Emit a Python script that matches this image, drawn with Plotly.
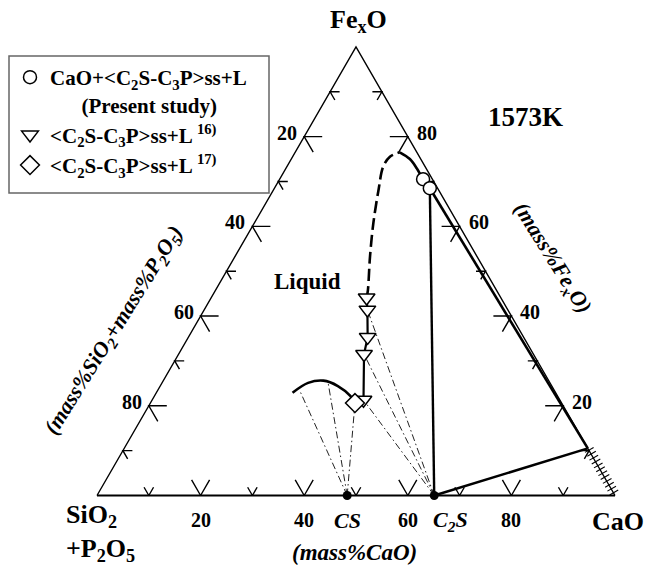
import numpy as np
import plotly.graph_objects as go

FONT = "Liberation Serif"

# ---------------- data: compositions in mass% (CaO, FexO); rest = SiO2+P2O5 ----------------
tick_values = [10, 20, 30, 40, 50, 60, 70, 80, 90]
major_ticks = [20, 40, 60, 80]
tick_labels = ["20", "40", "60", "80"]

cs_cao = 48.3     # CaO.SiO2
c2s_cao = 65.1    # 2CaO.SiO2

# Present study: CaO + <C2S-C3P>ss + L
circle_cao = [27.7, 30.0]
circle_fexo = [70.5, 68.5]

# <C2S-C3P>ss + L  (ref. 16)
tri_cao = [30.0, 31.5, 34.6, 35.8, 40.8]
tri_fexo = [44.1, 41.4, 35.3, 31.5, 21.3]

# <C2S-C3P>ss + L  (ref. 17)
dia_cao = [39.5]
dia_fexo = [20.6]

# liquidus, dashed part (from first triangle up to the top)
dash_cao = [30.0, 29.4, 26.1, 23.0, 20.3, 18.6, 18.8, 20.2]
dash_fexo = [44.1, 45.8, 53.2, 60.7, 68.1, 73.3, 75.5, 76.5]

# liquidus, solid part towards CaO saturation
sat_cao = [20.2, 22.9, 25.3, 27.7, 30.0]
sat_fexo = [76.5, 75.0, 72.9, 70.5, 68.5]

# CaO-saturation line near the CaO-FexO edge
inner_cao = [30.0, 89.5]
inner_fexo = [68.5, 10.5]

# CS-saturated liquidus arc
arc_cao = [26.3, 28.2, 30.9, 34.3, 37.8, 39.5]
arc_fexo = [22.9, 25.1, 25.6, 24.4, 22.2, 20.6]

# tie-line liquid ends
cs_tie_cao = [27.7, 32.2, 39.5]
cs_tie_fexo = [23.1, 24.9, 20.6]
c2s_tie_cao = [31.5, 35.8, 40.8]
c2s_tie_fexo = [41.4, 31.5, 21.3]

# C2S - CaO/FexO edge three-phase line end
edge_cao = [89.5]
edge_fexo = [10.5]

# hatched (CaO-FexO) solid solution range along the edge, FexO mass%
ss_fexo_range = [0.0, 10.5]

# ---------------- geometry helpers ----------------
S3 = np.sqrt(3) / 2
PX = 5.18  # pixels per composition unit (figure scale)
W, H = 646, 565


def xy(cao, fexo):
    cao = np.asarray(cao, float)
    fexo = np.asarray(fexo, float)
    return cao + fexo / 2, fexo * S3


fig = go.Figure()


def line(cao, fexo, width=2.5, dash=None, shape="linear", color="black"):
    x, y = xy(cao, fexo)
    fig.add_trace(go.Scatter(x=x, y=y, mode="lines", showlegend=False, hoverinfo="skip",
                             line=dict(color=color, width=width, dash=dash, shape=shape,
                                       smoothing=1.0)))


def segs(xs, ys, width, color="black", dash=None):
    fig.add_trace(go.Scatter(x=xs, y=ys, mode="lines", showlegend=False, hoverinfo="skip",
                             line=dict(color=color, width=width, dash=dash)))


# triangle edges (SiO2 corner -> FexO apex -> CaO corner), bottom edge heavier
line([0, 0, 100], [0, 100, 0], width=1.4)
line([0, 100], [0, 0], width=2.2)

# ticks
tx, ty = [], []
for v in tick_values:
    L = (18 if v in major_ticks else 9.5) / PX
    x0, y0 = xy(v, 0)
    tx += [x0 - 0.5 * L, x0, x0 + 0.5 * L, None]
    ty += [y0 + S3 * L, y0, y0 + S3 * L, None]
    x0, y0 = xy(0, 100 - v)
    tx += [x0 + L, x0, x0 + 0.5 * L, None]
    ty += [y0, y0, y0 - S3 * L, None]
    x0, y0 = xy(100 - v, v)
    tx += [x0 - L, x0, x0 - 0.5 * L, None]
    ty += [y0, y0, y0 - S3 * L, None]
segs(tx, ty, 1.4)

# hatch marks along the CaO-FexO edge
hx, hy = [], []
h = 5.5 / PX
for f in np.linspace(ss_fexo_range[0] + 0.6, ss_fexo_range[1] - 0.4, 12):
    x0, y0 = xy(100 - f, f)
    hx += [x0 - S3 * h * 0.8, x0 + S3 * h, None]
    hy += [y0 - 0.5 * h * 0.8, y0 + 0.5 * h, None]
segs(hx, hy, 1.1)

# tie lines (dash-dot)
tdx, tdy = [], []
for c, f in zip(cs_tie_cao, cs_tie_fexo):
    a, b = xy([cs_cao, c], [0, f])
    tdx += list(a) + [None]
    tdy += list(b) + [None]
for c, f in zip(c2s_tie_cao, c2s_tie_fexo):
    a, b = xy([c2s_cao, c], [0, f])
    tdx += list(a) + [None]
    tdy += list(b) + [None]
segs(tdx, tdy, 1.0, color="#222", dash="7px,3px,1.5px,3px")

# phase boundaries
line(dash_cao, dash_fexo, width=2.6, dash="12px,5px", shape="spline")
line(sat_cao, sat_fexo, width=2.6, shape="spline")
line(inner_cao, inner_fexo, width=2.6)
line(arc_cao, arc_fexo, width=2.6, shape="spline")
line(tri_cao, tri_fexo, width=2.2)
line([c2s_cao, circle_cao[1]], [0, circle_fexo[1]], width=2.4)
line([c2s_cao, edge_cao[0]], [0, edge_fexo[0]], width=2.4)

# compounds CS, C2S
xc, yc = xy([cs_cao, c2s_cao], [0, 0])
fig.add_trace(go.Scatter(x=xc, y=yc, mode="markers", showlegend=False, hoverinfo="skip",
                         marker=dict(color="black", size=9)))

# experimental points (legend)
mk = dict(color="white", line=dict(color="black", width=1.5))
x, y = xy(circle_cao, circle_fexo)
fig.add_trace(go.Scatter(x=x, y=y, mode="markers",
                         name="CaO+&lt;C<sub>2</sub>S-C<sub>3</sub>P&gt;ss+L<br>"
                              + "&nbsp;" * 6 + "(Present study)",
                         marker=dict(symbol="circle", size=13, **mk)))
x, y = xy(tri_cao, tri_fexo)
fig.add_trace(go.Scatter(x=x, y=y, mode="markers",
                         name="&lt;C<sub>2</sub>S-C<sub>3</sub>P&gt;ss+L <sup>16)</sup>",
                         marker=dict(symbol="triangle-down", size=14.5, **mk)))
x, y = xy(dia_cao, dia_fexo)
fig.add_trace(go.Scatter(x=x, y=y, mode="markers",
                         name="&lt;C<sub>2</sub>S-C<sub>3</sub>P&gt;ss+L <sup>17)</sup>",
                         marker=dict(symbol="diamond", size=14.5, **mk)))

# ---------------- text ----------------
ann = []


def A(x, y, text, size, xs=0, ys=0, xa="center", ya="middle", ref="x", angle=0,
      align="center", italic=False):
    ann.append(dict(x=x, y=y, xref="paper" if ref == "paper" else "x",
                    yref="paper" if ref == "paper" else "y",
                    text=text, showarrow=False, xshift=xs, yshift=ys, xanchor=xa, yanchor=ya,
                    textangle=angle, align=align,
                    font=dict(family=FONT, size=size, color="black", weight="bold",
                              style="italic" if italic else "normal")))


for v, lab in zip(major_ticks, tick_labels):
    bx, by = xy(v, 0)
    A(float(bx), float(by), lab, 20, ys=-24)
    lx, ly = xy(0, 100 - v)
    A(float(lx), float(ly), lab, 20, xs=-5, ys=4, xa="right")
    rx, ry = xy(100 - v, v)
    A(float(rx), float(ry), lab, 20, xs=7, ys=4, xa="left")

# corners
ax_, ay_ = xy(0, 100)
A(float(ax_), float(ay_), "Fe<sub>x</sub>O", 26, xs=2, ys=26)
sx, sy = xy(0, 0)
A(float(sx), float(sy), "SiO<sub>2</sub><br>+P<sub>2</sub>O<sub>5</sub>", 26,
  xs=-33, ys=-37, xa="left", align="left")
cx, cy = xy(100, 0)
A(float(cx), float(cy), "CaO", 26, xs=3, ys=-26)

# compounds
A(float(xc[0]), float(yc[0]), "CS", 22, ys=-25, italic=True)
A(float(xc[1]), float(yc[1]), "C<sub>2</sub>S", 22, xs=16, ys=-25, italic=True)

# axis titles
A(354.5 / W, 1 - 552 / H, "(mass%CaO)", 23, ref="paper", italic=True)
A(114 / W, 1 - 331 / H, "(mass%SiO<sub>2</sub>+mass%P<sub>2</sub>O<sub>5</sub>)", 22,
  ref="paper", angle=-58, italic=True)
A(551.7 / W, 1 - 258 / H, "(mass%Fe<sub>x</sub>O)", 22, ref="paper", angle=58, italic=True)

A(525 / W, 1 - 116.7 / H, "1573K", 27, ref="paper")
A(307 / W, 1 - 281 / H, "Liquid", 23, ref="paper")

x_lo, y_lo = -97 / PX, -(H - 495.5) / PX
fig.update_layout(
    width=W, height=H, margin=dict(l=0, r=0, t=0, b=0),
    paper_bgcolor="white", plot_bgcolor="white",
    xaxis=dict(range=[x_lo, x_lo + W / PX], visible=False, fixedrange=True),
    yaxis=dict(range=[y_lo, y_lo + H / PX], visible=False, fixedrange=True),
    annotations=ann,
    shapes=[dict(type="rect", xref="paper", yref="paper",
                 x0=9 / W, x1=269 / W, y0=1 - 193 / H, y1=1 - 56 / H,
                 line=dict(color="#666", width=1.5), fillcolor="rgba(0,0,0,0)", layer="below")],
    showlegend=True,
    legend=dict(x=10 / W, y=1 - 57 / H, xanchor="left", yanchor="top",
                bgcolor="rgba(0,0,0,0)", borderwidth=0,
                valign="top", font=dict(family=FONT, size=21, color="black", weight="bold")),
)

fig.write_html("out.html")
